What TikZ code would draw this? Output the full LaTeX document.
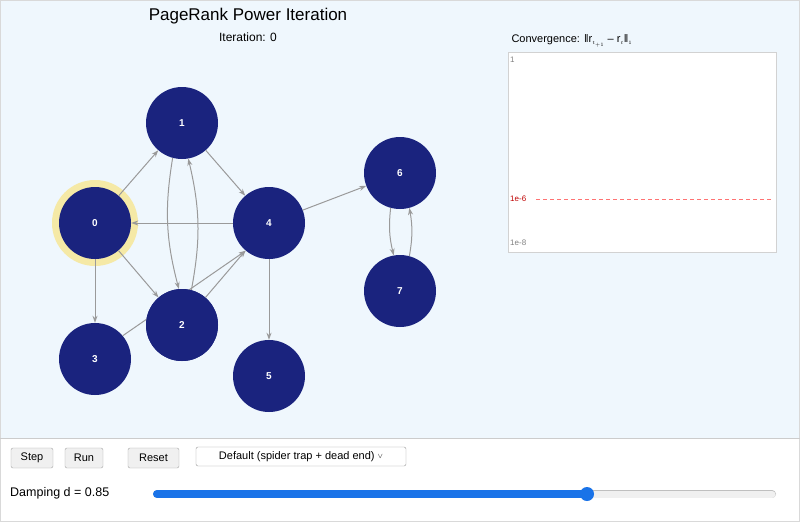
\documentclass[tikz,border=0pt]{standalone}
\usepackage{fontspec}
\setmainfont{Liberation Sans}
\usetikzlibrary{arrows.meta}
\definecolor{bgblue}{HTML}{EFF7FD}
\definecolor{navy}{HTML}{1A237E}
\definecolor{halo}{HTML}{F5E9A6}
\definecolor{edgec}{HTML}{9A9A9A}
\definecolor{slider}{HTML}{1A73E8}
\begin{document}
\begin{tikzpicture}[x=1pt,y=-1pt,
  pg/.style={circle,fill=navy,minimum size=72pt,inner sep=0pt,text=white,font=\fontsize{10}{12}\selectfont\bfseries},
  ed/.style={draw=edgec,line width=1pt,-{Stealth[length=7pt,width=5pt]}},
  btn/.style={draw=gray!70,fill=gray!12,rounded corners=2pt,font=\fontsize{11}{13}\selectfont,inner sep=0pt,minimum height=20pt}]
\useasboundingbox (0,0) rectangle (800,522);
\fill[white] (0,0) rectangle (800,522);
\fill[bgblue] (0,0) rectangle (800,438);
\draw[gray!30] (0.5,0.5) rectangle (799.5,521.5);
\draw[gray!40,line width=1pt] (0,438.5) -- (800,438.5);
\node (title) at (248,16) {\fontsize{17}{20}\selectfont PageRank Power Iteration};
\node (iter) at (248,37) {\fontsize{12}{14}\selectfont Iteration: 0};
% chart
\node[anchor=west] (ctitle) at (508,41) {\fontsize{11}{13}\selectfont Convergence: ‖r$_{\scriptscriptstyle t_{+1}}$ – r$_{\scriptscriptstyle t}$‖$_{\scriptscriptstyle 1}$};
\draw[fill=white,draw=gray!35,line width=1pt] (508,52) rectangle (776,252);
\node[anchor=west,text=gray,font=\fontsize{8}{9}\selectfont,inner sep=1pt] (l1) at (509,60) {1};
\node[anchor=west,text=red!75!black,font=\fontsize{8}{9}\selectfont,inner sep=1pt] (l2) at (509,199) {1e-6};
\node[anchor=west,text=gray,font=\fontsize{8}{9}\selectfont,inner sep=1pt] (l3) at (509,243) {1e-8};
\draw[red!55,dashed,line width=1pt,dash pattern=on 4pt off 3pt] (536,199) -- (772,199);
% halo
\fill[halo] (95,223) circle (43);
% nodes
\node[pg] (n0) at (95,223) {0};
\node[pg] (n1) at (182,123) {1};
\node[pg] (n2) at (182,325) {2};
\node[pg] (n3) at (95,359) {3};
\node[pg] (n4) at (269,223) {4};
\node[pg] (n5) at (269,376) {5};
\node[pg] (n6) at (400,173) {6};
\node[pg] (n7) at (400,291) {7};
\begin{scope}[on background layer/.style={}]
\end{scope}
% edges (drawn, then nodes redrawn on top)
\path[ed] (n0) -- (n1);
\path[ed] (n0) -- (n2);
\path[ed] (n0) -- (n3);
\path[ed] (n1) -- (n4);
\path[ed] (n4) -- (n0);
\path[ed] (n4) -- (n5);
\path[ed] (n4) -- (n6);
\path[ed] (n2) -- (n4);
\path[ed] (n3.40) -- (n4.230);
\path[ed] (n1.255) to[bend right=12] (n2.95);
\path[ed] (n2.75) to[bend right=12] (n1.280);
\path[ed] (n6.255) to[bend right=10] (n7.100);
\path[ed] (n7.75) to[bend right=10] (n6.285);
% redraw nodes on top
\node[pg] at (182,325) {2};
% controls
\node[btn,minimum width=42pt] (step) at (32,458) {Step};
\node[btn,minimum width=38pt] (run) at (84,458) {Run};
\node[btn,minimum width=51pt] (reset) at (153.5,458) {Reset};
\node[draw=gray!80,fill=white,rounded corners=2pt,minimum width=210pt,minimum height=19pt,inner sep=0pt,font=\fontsize{11}{13}\selectfont] (sel) at (301,456.5) {Default (spider trap + dead end) \raisebox{1pt}{\scriptsize$\vee$}};
\node[anchor=west,font=\fontsize{12.5}{15}\selectfont,inner sep=0pt] (damp) at (10,493) {Damping d = 0.85};
\draw[line cap=round,line width=8pt,gray!50] (157,494) -- (772,494);
\draw[line cap=round,line width=7pt,white!88!gray] (157,494) -- (772,494);
\draw[line cap=round,line width=8pt,slider] (157,494) -- (587,494);
\fill[slider] (587,494) circle (7);
\end{tikzpicture}
\end{document}
